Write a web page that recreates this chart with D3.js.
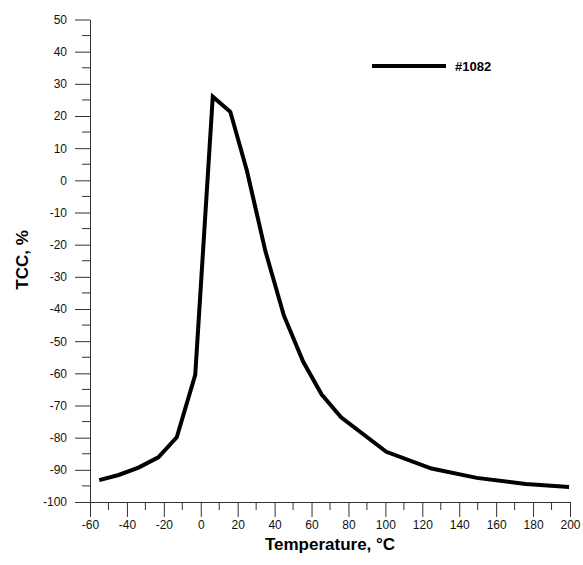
<!DOCTYPE html>
<html>
<head>
<meta charset="utf-8">
<script src="https://cdn.jsdelivr.net/npm/d3@7"></script>
<style>
  body { margin: 0; background: #fff; }
  svg { display: block; font-family: "Liberation Sans", Arial, sans-serif; }
</style>
</head>
<body>
<div id="chart"></div>
<script>
  // data
  const temps = [-55, -44.5, -33.7, -23, -13, -3, 6.5, 16, 25, 35, 45, 55.5, 65.5, 76, 100.5, 125, 149.5, 176, 199.5];
  const tcc = [-93.2, -91.6, -89.3, -86.1, -79.9, -60.5, 26, 21.3, 3, -22, -42, -56.4, -66.6, -73.7, -84.4, -89.6, -92.5, -94.4, -95.3];
  const xMajorTicks = d3.range(-60, 201, 20);
  const xMinorTicks = d3.range(-50, 200, 20);
  const yMajorTicks = d3.range(-100, 51, 10);
  const yMinorTicks = d3.range(-95, 50, 10);
  const seriesName = "#1082";

  const width = 583;
  const height = 565;
  const plotLeft = 90, plotRight = 570, plotTop = 19.5, plotBottom = 502;

  const svg = d3.select("#chart").append("svg")
    .attr("width", width)
    .attr("height", height);

  const x = d3.scaleLinear().domain([-60, 200]).range([plotLeft, plotRight]);
  const y = d3.scaleLinear().domain([-100, 50]).range([plotBottom, plotTop]);

  const axisColor = "#333";
  // plain hyphen for negatives, like the original
  const plainFormat = d => String(d);

  // x axis
  const xAxis = svg.append("g").attr("transform", `translate(0,${plotBottom})`);
  xAxis.call(d3.axisBottom(x).tickValues(xMajorTicks).tickFormat(plainFormat)
    .tickSize(15).tickSizeOuter(0).tickPadding(3));
  xAxis.append("g").selectAll("line")
    .data(xMinorTicks)
    .enter()
    .append("line")
      .attr("x1", d => x(d)).attr("x2", d => x(d))
      .attr("y1", 0).attr("y2", 8);

  // y axis
  const yAxis = svg.append("g").attr("transform", `translate(${plotLeft},0)`);
  yAxis.call(d3.axisLeft(y).tickValues(yMajorTicks).tickFormat(plainFormat)
    .tickSize(15).tickSizeOuter(0).tickPadding(8));
  yAxis.append("g").selectAll("line")
    .data(yMinorTicks)
    .enter()
    .append("line")
      .attr("y1", d => y(d)).attr("y2", d => y(d))
      .attr("x1", 0).attr("x2", -8);

  svg.selectAll(".domain").attr("stroke", axisColor);
  svg.selectAll("line").attr("stroke", axisColor).attr("stroke-width", 1);
  svg.selectAll(".tick text")
    .attr("font-size", 12)
    .attr("fill", "#111")
    .attr("font-family", "'Liberation Sans', Arial, sans-serif");

  // curve
  const line = d3.line()
    .x((d, i) => x(temps[i]))
    .y(d => y(d));

  svg.append("path")
    .datum(tcc)
    .attr("fill", "none")
    .attr("stroke", "#000")
    .attr("stroke-width", 4)
    .attr("stroke-linejoin", "miter")
    .attr("d", line);

  // legend
  svg.append("line")
    .attr("x1", 372).attr("x2", 446)
    .attr("y1", 66).attr("y2", 66)
    .attr("stroke", "#000")
    .attr("stroke-width", 4);
  svg.append("text")
    .attr("x", 455).attr("y", 71)
    .attr("font-size", 13)
    .attr("font-weight", "bold")
    .text(seriesName);

  // axis titles
  svg.append("text")
    .attr("x", (plotLeft + plotRight) / 2).attr("y", 550)
    .attr("text-anchor", "middle")
    .attr("font-size", 17)
    .attr("font-weight", "bold")
    .text("Temperature, °C");

  svg.append("text")
    .attr("transform", "translate(28,260) rotate(-90)")
    .attr("text-anchor", "middle")
    .attr("font-size", 17)
    .attr("font-weight", "bold")
    .text("TCC, %");
</script>
</body>
</html>
